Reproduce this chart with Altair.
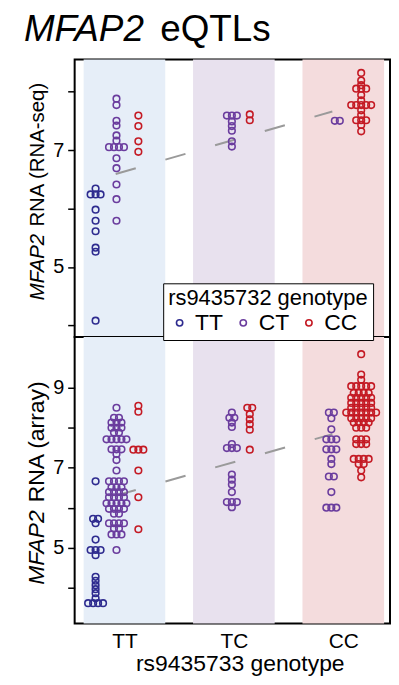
import altair as alt
import pandas as pd

# ---------------- data ----------------
x_genotypes = ["TT", "TC", "CC"]          # rs9435733 genotype (x axis)
x_positions = [1, 2, 3]
legend_genotypes = ["TT", "CT", "CC"]     # rs9435732 genotype (colour)
band_colors = ["#e6eef8", "#e8e1ee", "#f4dcdd"]
point_colors = ["#2e2b8f", "#6b3d9e", "#c41a24"]

# RNA-seq panel: values per (x genotype, colour genotype)
seq_TT_TT = [6.34, 6.24, 6.24, 6.24, 5.98, 5.79, 5.61, 5.33, 5.26, 4.08]
seq_TT_CT = [7.88, 7.77, 7.50, 7.42, 7.25, 7.16, 7.05, 7.05, 7.05, 7.05, 6.86, 6.69, 6.41, 6.16, 5.79]
seq_TT_CC = [7.59, 7.41, 7.15, 6.97]
seq_TC_CT = [7.59, 7.59, 7.59, 7.49, 7.41, 7.33, 7.15, 7.06]
seq_TC_CC = [7.61, 7.51]
seq_CC_CT = [7.50, 7.50]
seq_CC_CC = [8.32, 8.19, 8.11, 8.05, 8.05, 8.05, 7.94, 7.85, 7.77, 7.77, 7.77, 7.77, 7.77,
             7.68, 7.60, 7.51, 7.51, 7.51, 7.43, 7.32]

# array panel
arr_TT_TT = [6.66, 5.72, 5.72, 5.61, 5.20, 4.94, 4.94, 4.94, 4.81, 4.27, 4.17, 4.06, 3.96,
             3.86, 3.73, 3.61, 3.61, 3.61, 3.61]
arr_TT_CT = [8.50, 8.25, 8.25, 8.13, 8.13, 8.13, 8.00, 8.00, 8.00, 7.88, 7.88,
             7.71, 7.71, 7.71, 7.71, 7.71, 7.46, 7.46, 7.46, 7.34, 7.19, 6.93,
             6.66, 6.66, 6.66, 6.66, 6.51, 6.51, 6.51, 6.39, 6.39, 6.39, 6.39,
             6.26, 6.26, 6.26, 6.26, 6.11, 6.11, 6.11, 6.11, 6.11, 5.97, 5.97, 5.97, 5.97,
             5.85, 5.85, 5.61, 5.61, 5.61, 5.61, 5.48, 5.48, 5.33, 5.33, 5.33, 4.94]
arr_TT_CC = [8.55, 8.40, 7.45, 7.45, 7.45, 6.93, 6.26, 5.46]
arr_TC_CT = [8.38, 8.25, 8.25, 8.13, 8.02, 7.59, 7.49, 7.49, 7.49, 6.83, 6.70, 6.58, 6.39,
             6.14, 6.14, 6.14, 6.01]
arr_TC_CC = [8.50, 8.50, 8.34, 8.21, 8.09, 7.95, 7.45]
arr_CC_CT = [8.38, 8.38, 8.24, 7.96, 7.71, 7.71, 7.71, 7.46, 7.46, 7.46, 7.22, 7.09, 6.78,
             6.78, 6.39, 6.00, 6.00, 6.00]
arr_CC_CC = [9.84, 9.33, 9.20,
             9.04, 9.04, 9.04, 9.04, 9.04,
             8.87, 8.87, 8.87, 8.87,
             8.75, 8.75, 8.75, 8.75, 8.75,
             8.62, 8.62, 8.62, 8.62, 8.62,
             8.50, 8.50, 8.50, 8.50, 8.50,
             8.38, 8.38, 8.38, 8.38, 8.38, 8.38, 8.38,
             8.24, 8.24, 8.24, 8.24, 8.24,
             8.13, 8.13, 8.13, 8.13,
             8.00, 8.00, 8.00,
             7.71, 7.71, 7.71,
             7.59, 7.59, 7.59,
             7.22, 7.22, 7.22, 7.22,
             7.09, 7.09, 6.93, 6.76]

# dashed trend line end points
fit_x = [0.92, 2.90]
seq_fit_y = [6.59, 7.66]
arr_fit_y = [6.30, 7.84]

# ---------------- layout constants ----------------
W = 317
H_TOP, H_BOT = 279, 288
PX_PER_UNIT = 110.0
BAND_HALF = 0.373
STEP = 5.0 / PX_PER_UNIT
FONT = "Liberation Sans"

seq_groups = {("TT", "TT"): seq_TT_TT, ("TT", "CT"): seq_TT_CT, ("TT", "CC"): seq_TT_CC,
              ("TC", "CT"): seq_TC_CT, ("TC", "CC"): seq_TC_CC,
              ("CC", "CT"): seq_CC_CT, ("CC", "CC"): seq_CC_CC}
arr_groups = {("TT", "TT"): arr_TT_TT, ("TT", "CT"): arr_TT_CT, ("TT", "CC"): arr_TT_CC,
              ("TC", "CT"): arr_TC_CT, ("TC", "CC"): arr_TC_CC,
              ("CC", "CT"): arr_CC_CT, ("CC", "CC"): arr_CC_CC}
seq_cols = {("TT", "TT"): -29, ("TT", "CT"): -8, ("TT", "CC"): 14,
            ("TC", "CT"): -2, ("TC", "CC"): 16, ("CC", "CT"): -6, ("CC", "CC"): 18}
arr_cols = {("TT", "TT"): -29, ("TT", "CT"): -8, ("TT", "CC"): 14,
            ("TC", "CT"): -2, ("TC", "CC"): 16, ("CC", "CT"): -12, ("CC", "CC"): 18}


def build(groups, cols):
    rows = []
    for (band, geno), vals in groups.items():
        counts = {}
        for v in vals:
            counts[v] = counts.get(v, 0) + 1
        seen = {}
        base = x_positions[x_genotypes.index(band)] + cols[(band, geno)] / PX_PER_UNIT
        for v in vals:
            n = counts[v]
            i = seen.get(v, 0)
            seen[v] = i + 1
            rows.append({"band": band, "geno": geno, "value": v,
                         "xpos": base + (i - (n - 1) / 2) * STEP})
    return pd.DataFrame(rows)


seq_df = build(seq_groups, seq_cols)
arr_df = build(arr_groups, arr_cols)

bands_df = pd.DataFrame({"band": x_genotypes, "pos": x_positions, "fillc": band_colors})
bands_df["x0"] = bands_df["pos"] - BAND_HALF
bands_df["x1"] = bands_df["pos"] + BAND_HALF

x_scale = alt.Scale(domain=[0.545, 3.427], nice=False, zero=False)
color_scale = alt.Scale(domain=legend_genotypes, range=point_colors)

label_expr = "[" + ",".join("'" + g + "'" for g in x_genotypes) + "][datum.value - 1]"
bottom_x_axis = alt.Axis(values=x_positions, labelExpr=label_expr, title="rs9435733 genotype",
                         titleFontSize=23, titleFont=FONT, titleFontWeight="normal",
                         titleColor="black", titlePadding=1, titleX=166,
                         labelFontSize=21, labelFont=FONT, labelColor="black",
                         labelPadding=7, tickSize=0, domain=False, grid=False)


def panel(df, fit_y, ydom, yticks, H, x_axis, legend, texts):
    y_scale = alt.Scale(domain=ydom, nice=False, zero=False)
    y_axis = alt.Axis(values=yticks, labelExpr="datum.value % 2 == 1 ? datum.label : ''",
                      title=None, domain=False, grid=False, tickSize=7, tickWidth=1.5,
                      tickColor="black", labelFontSize=20, labelFont=FONT,
                      labelColor="black", labelPadding=4)

    def X(field):
        return alt.X(field, type="quantitative", scale=x_scale, axis=x_axis)

    bg = alt.Chart(bands_df).mark_rect().encode(
        x=X("x0"), x2="x1",
        y=alt.value(0), y2=alt.value(H),
        fill=alt.Fill("fillc:N", scale=None),
    )
    fit_df = pd.DataFrame({"x": fit_x, "y": fit_y})
    line = alt.Chart(fit_df).mark_line(color="#9a9a9a", strokeWidth=2, strokeDash=[21, 31]).encode(
        x=X("x"), y=alt.Y("y:Q", scale=y_scale, axis=y_axis)
    )
    pts = alt.Chart(df).mark_point(shape="circle", filled=False, size=44, strokeWidth=1.6, opacity=1).encode(
        x=X("xpos"),
        y=alt.Y("value:Q", scale=y_scale, axis=y_axis),
        color=alt.Color("geno:N", scale=color_scale, legend=legend),
    )
    layers = [bg, line, pts]
    for (txt, x, y, size, style, angle) in texts:
        t = alt.Chart(pd.DataFrame({"t": [txt]})).mark_text(
            align="left", baseline="alphabetic", font=FONT, fontSize=size,
            fontStyle=style, angle=angle, color="black"
        ).encode(text="t:N", x=alt.value(x), y=alt.value(y))
        layers.append(t)
    return alt.layer(*layers).properties(width=W, height=H)


legend = alt.Legend(title="rs9435732 genotype", orient="none", legendX=89, legendY=-54,
                    direction="horizontal", symbolType="circle", symbolSize=40,
                    symbolStrokeWidth=1.6, titleFontSize=22, titleFont=FONT,
                    titleFontWeight="normal", titleColor="black", titleLimit=400,
                    labelFontSize=23, labelFont=FONT, labelColor="black", labelOffset=4,
                    columnPadding=8, padding=5, titlePadding=1,
                    fillColor="white", strokeColor="black")

top = panel(seq_df, seq_fit_y, [3.8, 8.55], [4, 5, 6, 7, 8], H_TOP, None, None,
            [("MFAP2", -31, 242, 20.5, "italic", 270),
             ("RNA (RNA-seq)", -31, 168, 20.5, "normal", 270),
             ("MFAP2", -51, -19, 37, "italic", 0),
             ("eQTLs", 86, -19, 37, "normal", 0)])
bottom = panel(arr_df, arr_fit_y, [3.1, 10.27], [4, 5, 6, 7, 8, 9], H_BOT, bottom_x_axis, legend,
               [("MFAP2", -31, 249, 23, "italic", 270),
                ("RNA (array)", -31, 166, 23, "normal", 270)])

chart = alt.vconcat(top, bottom, spacing=0, bounds="flush").resolve_scale(
    color="independent"
).properties(
    padding={"left": 15, "top": 0, "right": 0, "bottom": 0}
).configure_view(stroke="black", strokeWidth=2)

chart.save("out.html", embed_options={"renderer": "svg", "actions": False})
